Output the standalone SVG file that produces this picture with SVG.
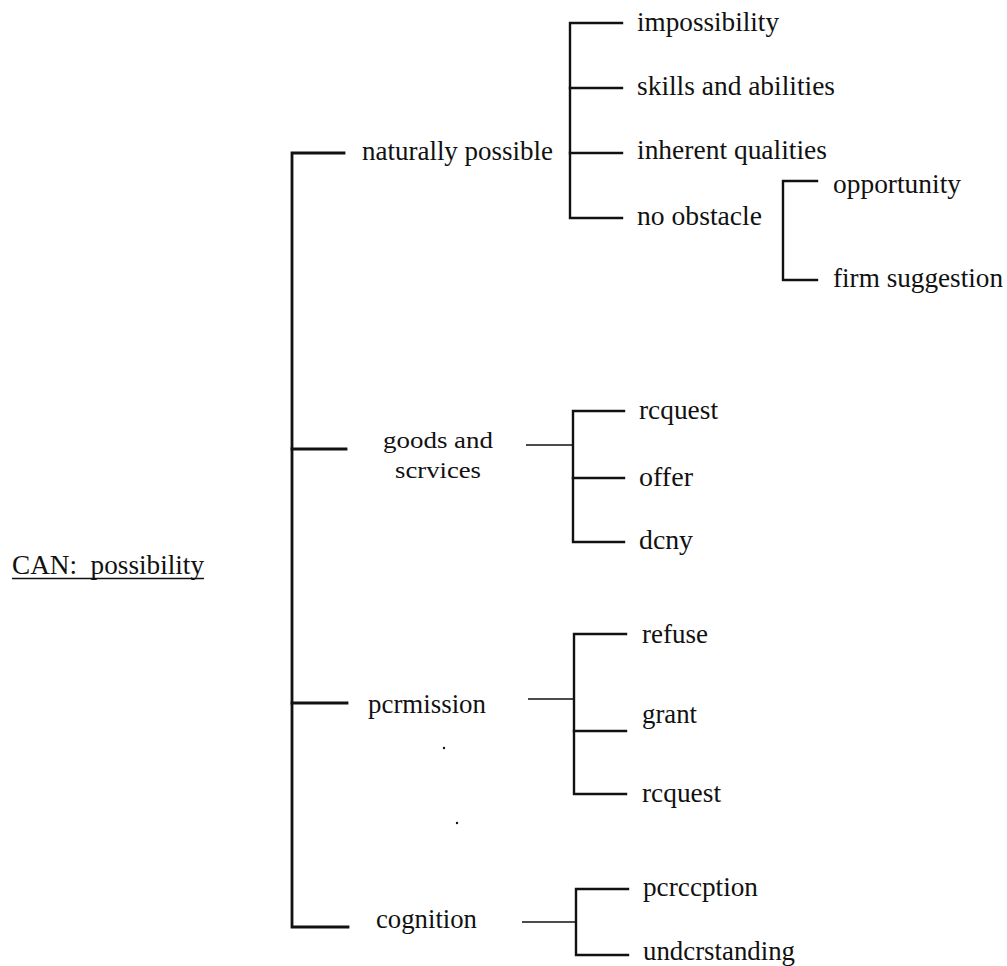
<svg xmlns="http://www.w3.org/2000/svg" width="1007" height="966" viewBox="0 0 1007 966">
<style>
text { font-family: "Liberation Serif", "Times New Roman", serif; font-size: 27px; fill: #111; }
.two { font-size: 24px; }
.br { stroke: #111; stroke-width: 2.4; fill: none; stroke-linecap: square; }
.main { stroke: #111; stroke-width: 2.8; fill: none; stroke-linecap: square; }
.thin { stroke: #111; stroke-width: 1.6; fill: none; }
</style>
<rect width="1007" height="966" fill="#ffffff"/>

<g id="connectors">
  <!-- main bracket -->
  <path class="main" d="M344 153 H292 V927 H348"/>
  <path class="main" d="M292 449 H346"/>
  <path class="main" d="M292 703 H347"/>
  <!-- naturally possible bracket -->
  <path class="br" d="M622 23 H570 V218 H622"/>
  <path class="br" d="M570 88 H622"/>
  <path class="br" d="M570 153 H622"/>
  <!-- no obstacle bracket -->
  <path class="br" d="M817 181 H783 V280 H817"/>
  <!-- goods and services -->
  <path class="thin" d="M526 445 H573"/>
  <path class="br" d="M624 411 H573 V542 H624"/>
  <path class="br" d="M573 478 H624"/>
  <!-- permission -->
  <path class="thin" d="M528 699 H574"/>
  <path class="br" d="M626 634 H574 V794 H626"/>
  <path class="br" d="M574 731 H626"/>
  <!-- cognition -->
  <path class="thin" d="M522 922 H576"/>
  <path class="br" d="M628 889 H576 V955 H628"/>
</g>

<g id="root">
  <text x="12" y="574" textLength="192" lengthAdjust="spacingAndGlyphs" xml:space="preserve">CAN:  possibility</text>
  <line x1="12" y1="578.5" x2="204" y2="578.5" stroke="#111" stroke-width="1.6"/>
</g>

<g id="naturally-possible"><text x="362" y="160" textLength="191" lengthAdjust="spacingAndGlyphs">naturally possible</text></g>
<g id="impossibility"><text x="637" y="31" textLength="142" lengthAdjust="spacingAndGlyphs">impossibility</text></g>
<g id="skills"><text x="637" y="95" textLength="198" lengthAdjust="spacingAndGlyphs">skills and abilities</text></g>
<g id="inherent"><text x="637" y="159" textLength="190" lengthAdjust="spacingAndGlyphs">inherent qualities</text></g>
<g id="no-obstacle"><text x="637" y="225" textLength="125" lengthAdjust="spacingAndGlyphs">no obstacle</text></g>
<g id="opportunity"><text x="833" y="193" textLength="128" lengthAdjust="spacingAndGlyphs">opportunity</text></g>
<g id="firm-suggestion"><text x="833" y="287" textLength="170" lengthAdjust="spacingAndGlyphs">firm suggestion</text></g>

<g id="goods-and-services">
  <text class="two" x="383" y="448" textLength="110" lengthAdjust="spacingAndGlyphs">goods and</text>
  <text class="two" x="395" y="478" textLength="86" lengthAdjust="spacingAndGlyphs">scrvices</text>
</g>
<g id="request-1"><text x="639" y="419" textLength="79" lengthAdjust="spacingAndGlyphs">rcquest</text></g>
<g id="offer"><text x="639" y="486" textLength="54" lengthAdjust="spacingAndGlyphs">offer</text></g>
<g id="deny"><text x="639" y="549" textLength="54" lengthAdjust="spacingAndGlyphs">dcny</text></g>

<g id="permission"><text x="368" y="713" textLength="118" lengthAdjust="spacingAndGlyphs">pcrmission</text></g>
<g id="refuse"><text x="642" y="643" textLength="66" lengthAdjust="spacingAndGlyphs">refuse</text></g>
<g id="grant"><text x="642" y="723" textLength="55" lengthAdjust="spacingAndGlyphs">grant</text></g>
<g id="request-2"><text x="642" y="802" textLength="79" lengthAdjust="spacingAndGlyphs">rcquest</text></g>

<g id="cognition"><text x="376" y="928" textLength="101" lengthAdjust="spacingAndGlyphs">cognition</text></g>
<g id="perception"><text x="643" y="896" textLength="115" lengthAdjust="spacingAndGlyphs">pcrccption</text></g>
<g id="understanding"><text x="643" y="960" textLength="152" lengthAdjust="spacingAndGlyphs">undcrstanding</text></g>

<circle cx="444" cy="748" r="1.2" fill="#111"/>
<circle cx="457" cy="823" r="1.2" fill="#111"/>
</svg>
